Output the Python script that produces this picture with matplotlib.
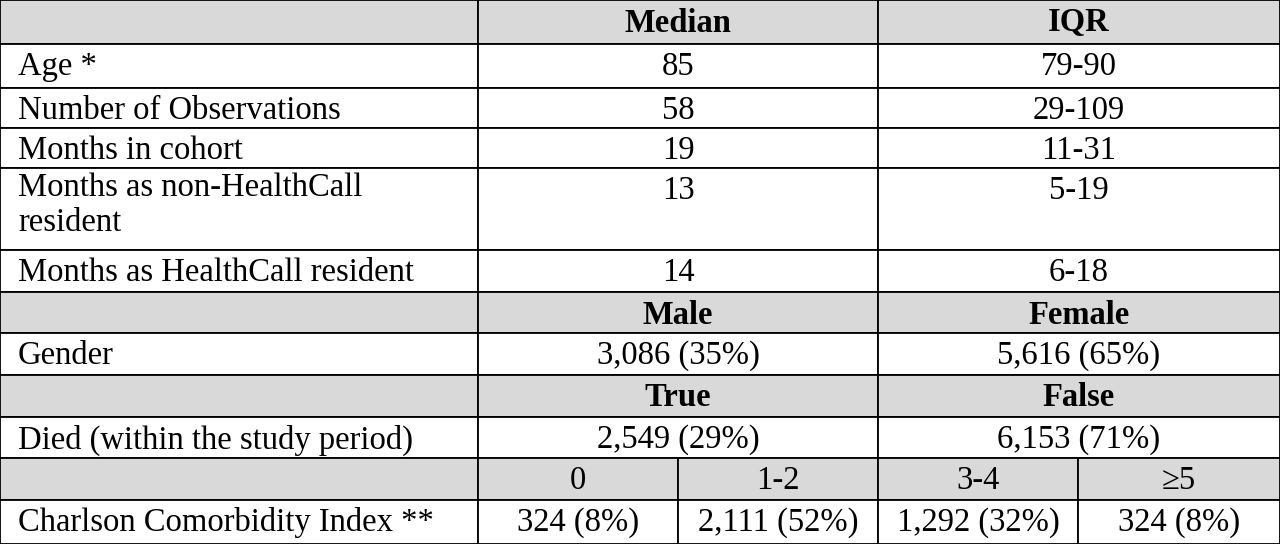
import matplotlib.pyplot as plt
from matplotlib.patches import Rectangle

plt.rcParams['font.family'] = ['Liberation Serif', 'DejaVu Serif']

# table content
row_labels = ["", "Age *", "Number of Observations", "Months in cohort",
              "Months as non-HealthCall\nresident", "Months as HealthCall resident",
              "", "Gender", "", "Died (within the study period)", "",
              "Charlson Comorbidity Index **"]
row_edges = [0, 44, 88, 128, 168, 250, 292, 333, 375, 417, 458, 500, 544]
header_rows = [0, 6, 8, 10]
two_col = {
    0: ["Median", "IQR"],
    1: ["85", "79-90"],
    2: ["58", "29-109"],
    3: ["19", "11-31"],
    4: ["13", "5-19"],
    5: ["14", "6-18"],
    6: ["Male", "Female"],
    7: ["3,086 (35%)", "5,616 (65%)"],
    8: ["True", "False"],
    9: ["2,549 (29%)", "6,153 (71%)"],
}
four_col = {
    10: ["0", "1-2", "3-4", "\u22655"],
    11: ["324 (8%)", "2,111 (52%)", "1,292 (32%)", "324 (8%)"],
}
col2 = [478, 878, 1280]
col4 = [478, 678, 878, 1078, 1280]

fig = plt.figure(figsize=(12.8, 5.44), dpi=100)
ax = fig.add_axes([0, 0, 1, 1])
ax.set_xlim(0, 1280)
ax.set_ylim(544, 0)
ax.axis("off")

fs = 23.5
lw = 1.3
for i, label in enumerate(row_labels):
    y0, y1 = row_edges[i], row_edges[i + 1]
    h = y1 - y0
    gray = i in header_rows
    face = "#d9d9d9" if gray else "white"
    ax.add_patch(Rectangle((0, y0), 478, h, facecolor=face, edgecolor="black", lw=lw))
    yt = y0 + 23
    if label:
        if "\n" in label:
            ax.text(18, y0 + 4, label, fontsize=fs, va="top", ha="left", linespacing=1.2)
        else:
            ax.text(18, yt, label, fontsize=fs, va="center", ha="left")
    if i in two_col:
        edges, vals = col2, two_col[i]
    else:
        edges, vals = col4, four_col[i]
    for j, v in enumerate(vals):
        xa, xb = edges[j], edges[j + 1]
        ax.add_patch(Rectangle((xa, y0), xb - xa, h, facecolor=face, edgecolor="black", lw=lw))
        bold = gray and i != 10
        ax.text((xa + xb) / 2, yt, v, fontsize=fs, ha="center", va="center",
                fontweight="bold" if bold else "normal")

fig.savefig("out.png", dpi=100)
